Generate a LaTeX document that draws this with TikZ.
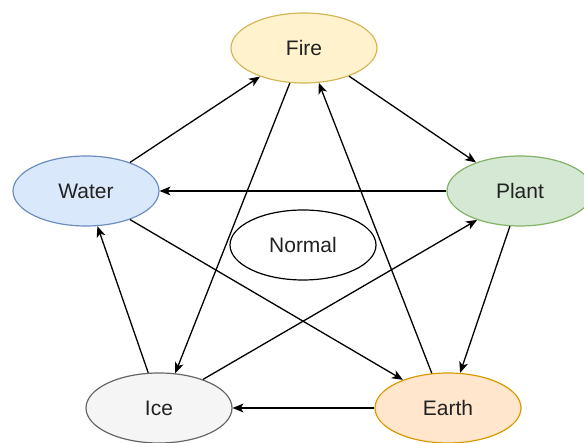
\documentclass[tikz,border=0pt]{standalone}
\usepackage{fontspec}
\setmainfont{Liberation Sans}
\usetikzlibrary{arrows.meta,shapes.geometric}
\definecolor{fireF}{HTML}{FFF2CC}\definecolor{fireS}{HTML}{D6B656}
\definecolor{waterF}{HTML}{DAE8FC}\definecolor{waterS}{HTML}{6C8EBF}
\definecolor{plantF}{HTML}{D5E8D4}\definecolor{plantS}{HTML}{82B366}
\definecolor{iceF}{HTML}{F5F5F5}\definecolor{iceS}{HTML}{666666}
\definecolor{earthF}{HTML}{FFE6CC}\definecolor{earthS}{HTML}{D79B00}
\definecolor{txt}{HTML}{222222}
\tikzset{
  elem/.style={ellipse, draw, line width=1.2pt, minimum width=146pt, minimum height=70pt, inner sep=0pt, text=txt, font=\fontsize{21}{25}\selectfont},
  conn/.style={line width=1.3pt, -{Stealth[length=11pt,width=9pt,inset=3pt]}}
}
\begin{document}
\begin{tikzpicture}[x=1pt,y=-1pt]
\useasboundingbox (0,0) rectangle (584,443);
\node[elem, fill=fireF, draw=fireS] (fire) at (304,48) {Fire};
\node[elem, fill=waterF, draw=waterS] (water) at (86,191) {Water};
\node[elem, fill=plantF, draw=plantS] (plant) at (520,191) {Plant};
\node[elem, fill=white, draw=black] (normal) at (303,245) {Normal};
\node[elem, fill=iceF, draw=iceS] (ice) at (159,408) {Ice};
\node[elem, fill=earthF, draw=earthS] (earth) at (448,408) {Earth};
\draw[conn] (water.33) -- (fire.213);
\draw[conn] (fire.328) -- (plant.147);
\draw[conn] (plant.180) -- (water.0);
\draw[conn] (plant.254) -- (earth.71);
\draw[conn] (earth.180) -- (ice.0);
\draw[conn] (ice.107) -- (water.288);
\draw[conn] (fire.248) -- (ice.65);
\draw[conn] (earth.115) -- (fire.293);
\draw[conn] (water.327) -- (earth.148);
\draw[conn] (ice.33) -- (plant.214);
\end{tikzpicture}
\end{document}
